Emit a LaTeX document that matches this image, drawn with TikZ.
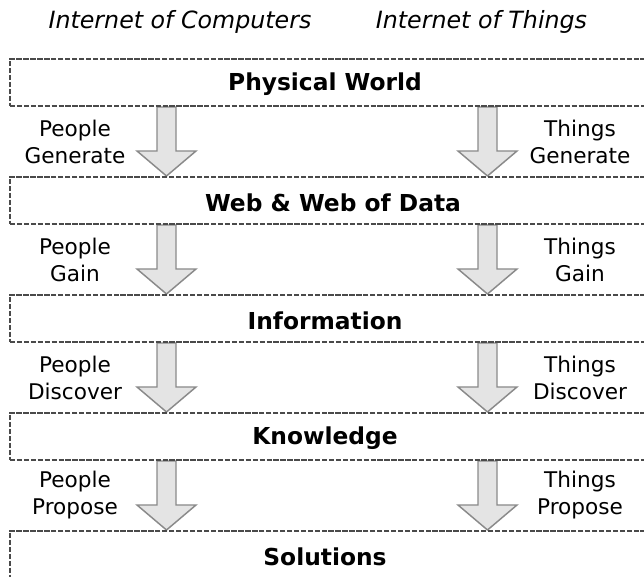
\documentclass[tikz,border=0pt]{standalone}
\usepackage{fontspec}
\setmainfont{DejaVu Sans}
\usepackage{tikz}
\usetikzlibrary{positioning, calc, backgrounds}

\definecolor{boxgray}{HTML}{4A4A4A}
\definecolor{arrowfill}{HTML}{E4E4E4}
\definecolor{arrowdraw}{HTML}{8A8A8A}

\begin{document}
\begin{tikzpicture}[x=0.75pt, y=-0.75pt, node distance=51.75pt,
  level/.style 2 args={draw=boxgray, line width=1.5pt, dash pattern=on 4pt off 1.2pt,
    minimum width=525pt, minimum height=35.25pt, inner sep=0pt,
    label={[font=\fontsize{17.5}{20}\selectfont\bfseries, xshift=#2, yshift=-1.5pt]center:#1}},
  side/.style={align=center, font=\fontsize{16.2}{20.25}\selectfont, inner sep=0pt},
  head/.style={font=\fontsize{17.8}{20}\selectfont\itshape, inner sep=0pt},
  fatarrow/.style={fill=arrowfill, draw=arrowdraw, line width=1.1pt, line join=miter}]

\useasboundingbox (0,0) rectangle (644,577);
\clip (0,0) rectangle (644,577);

% column headings
\node[head] (ioc) at (180,22) {Internet of Computers};
\node[head] (iot) at (481.5,22) {Internet of Things};

% levels
\node[level={Physical World}{-26.25pt}, anchor=west] (world) at (9,82.5) {};
\node[level={Web \& Web of Data}{-20.25pt}] (web) [below=of world] {};
\node[level={Information}{-26.25pt}] (info) [below=of web] {};
\node[level={Knowledge}{-26.25pt}] (know) [below=of info] {};
\node[level={Solutions}{-26.25pt}] (sol) [below=of know] {};

\coordinate (lcol) at (166.5,0);
\coordinate (rcol) at (487.5,0);
\coordinate (ltext) at (75,0);
\coordinate (rtext) at (580,0);

\foreach \a/\b/\act [count=\i] in {world/web/Generate, web/info/Gain, info/know/Discover, know/sol/Propose}{
  \path (\a.south) -- (\b.north) coordinate[midway] (m\i);
  \node[side] (people\i) at (m\i -| ltext) {People\\\act};
  \node[side] (things\i) at (m\i -| rtext) {Things\\\act};
  \begin{scope}[on background layer]
    \foreach \c in {lcol, rcol}
      \draw[fatarrow] let \p1=(\a.south -| \c), \p2=(\b.north -| \c) in
        (\x1-7.125pt,\y1) -- (\x1+7.125pt,\y1) -- (\x1+7.125pt,\y2+18.75pt)
        -- (\x1+22.125pt,\y2+18.75pt) -- (\x1,\y2) -- (\x1-22.125pt,\y2+18.75pt)
        -- (\x1-7.125pt,\y2+18.75pt) -- cycle;
  \end{scope}
}

\end{tikzpicture}
\end{document}
